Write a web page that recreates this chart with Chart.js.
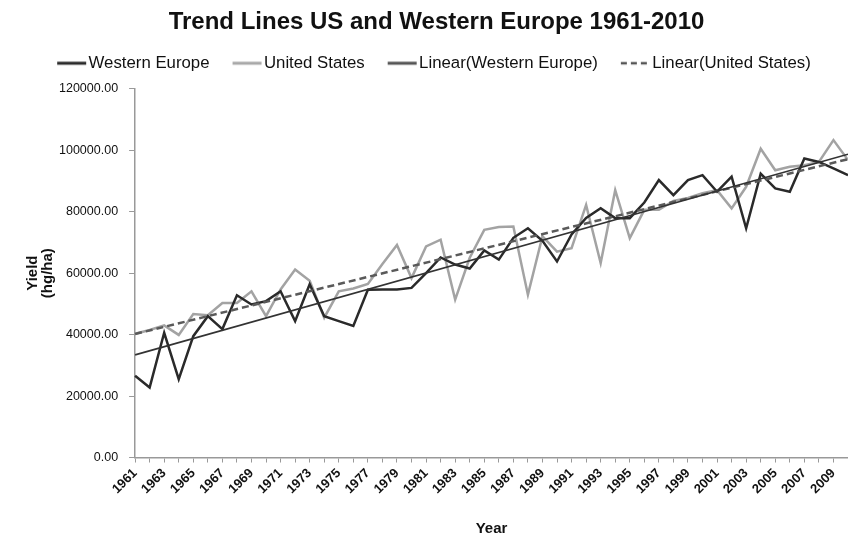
<!DOCTYPE html>
<html><head><meta charset="utf-8">
<script src="https://cdn.jsdelivr.net/npm/chart.js@4.4.1/dist/chart.umd.min.js"></script>
<style>html,body{margin:0;padding:0;background:#fff}#wrap{width:848px;height:535px}</style>
</head><body><div id="wrap"><canvas id="c" width="848" height="535"></canvas></div>
<script>
const years = ['1961','1962','1963','1964','1965','1966','1967','1968','1969','1970','1971','1972','1973','1974','1975','1976','1977','1978','1979','1980','1981','1982','1983','1984','1985','1986','1987','1988','1989','1990','1991','1992','1993','1994','1995','1996','1997','1998','1999','2000','2001','2002','2003','2004','2005','2006','2007','2008','2009','2010'];
const westernEurope = [26600,22800,40600,25500,39500,46000,41800,52800,49800,50900,54100,44400,56400,46000,44400,42800,54600,54700,54700,55200,60000,65100,62800,61500,67400,64400,71500,74600,70500,63800,72600,78000,81100,77900,77900,83000,90300,85400,90300,91900,86500,91400,74600,92400,87600,86500,97300,96200,94100,91900];
const unitedStates = [40300,41500,43000,39900,46700,46300,50300,50300,54100,46000,54700,61200,57500,45500,54100,55000,56500,63000,69200,58400,68700,70900,51400,65000,74100,75000,75200,53000,72000,67000,68100,82200,63300,87000,71400,80600,80600,83500,84500,86000,87000,81100,88100,100500,93500,94600,95100,96200,103300,96800];
// trend line end points (1961, 2010)
const trendYears = ['1961','2010'];
const trendWE = [33400, 98700];
const trendUS = [40200, 97100];
const yTicks = [0,20000,40000,60000,80000,100000,120000];

const BOXW = 36;
function sample(color, width, dash){
  const c = document.createElement('canvas');
  c.width = BOXW + 14; c.height = 6;
  const g = c.getContext('2d');
  g.strokeStyle = color; g.lineWidth = width; g.setLineDash(dash || []);
  g.beginPath(); g.moveTo(c.width - 30, 3); g.lineTo(c.width - 1, 3); g.stroke();
  return c;
}

const legendShift = {
  id: 'legendShift',
  afterLayout(chart){ if (chart.legend){ chart.legend.left -= 9; chart.legend.right -= 9; } }
};

const ctx = document.getElementById('c');
new Chart(ctx, {
  type: 'line',
  plugins: [legendShift],
  data: {
    labels: years,
    datasets: [
      {label:'Western Europe', data: westernEurope, borderColor:'#2a2a2a', backgroundColor:'#2a2a2a', borderWidth:2.5, pointRadius:0, tension:0, order:3, pointStyle: sample('#2a2a2a',3)},
      {label:'United States', data: unitedStates, borderColor:'#a3a3a3', backgroundColor:'#a3a3a3', borderWidth:2.5, pointRadius:0, tension:0, order:4, pointStyle: sample('#a8a8a8',3)},
      {label:'Linear(Western Europe)', data: trendYears.map((x,i)=>({x:x,y:trendWE[i]})), borderColor:'#333333', backgroundColor:'#333333', borderWidth:1.6, pointRadius:0, order:1, pointStyle: sample('#555',3)},
      {label:'Linear(United States)', data: trendYears.map((x,i)=>({x:x,y:trendUS[i]})), borderColor:'#5a5a5a', backgroundColor:'#5a5a5a', borderWidth:2.5, borderDash:[7,4], pointRadius:0, order:2, pointStyle: sample('#555',2.5,[6,4])}
    ]
  },
  options: {
    responsive:false, animation:false, maintainAspectRatio:false,
    layout:{padding:{left:25,right:0,top:4,bottom:-3}},
    plugins:{
      title:{display:true, text:'Trend Lines US and Western Europe 1961-2010', color:'#111', font:{family:'Liberation Sans, Arial', size:24, weight:'bold'}, padding:{top:4,bottom:8}},
      subtitle:{display:true, text:' ', weight:500, font:{size:1}, padding:{top:0,bottom:6}},
      legend:{display:true, labels:{usePointStyle:true, pointStyleWidth:BOXW, boxHeight:6, padding:10, color:'#111', font:{family:'Liberation Sans, Arial', size:16.8}, sort:(a,b)=>a.datasetIndex-b.datasetIndex}},
      tooltip:{enabled:false}
    },
    scales:{
      x:{type:'category', offset:false,
        afterFit:function(s){ s.paddingRight = 0; s.paddingLeft = 0; },
        grid:{display:true, drawOnChartArea:false, drawTicks:true, tickLength:5, color:'#999'},
        border:{display:true, color:'#999', width:1.5},
        ticks:{autoSkip:false, minRotation:45, maxRotation:45, color:'#111', font:{family:'Liberation Sans, Arial', size:13, weight:'bold'}, padding:3,
          callback:function(v,i){return i%2===0 ? years[i] : '';}},
        title:{display:true, text:'Year', color:'#111', font:{family:'Liberation Sans, Arial', size:15, weight:'bold'}, padding:{top:20,bottom:0}}
      },
      y:{min:0, max:120000,
        afterBuildTicks:function(s){s.ticks = yTicks.map(v=>({value:v}));},
        afterFit:function(s){ s.width -= 7; },
        grid:{display:true, drawOnChartArea:false, drawTicks:true, tickLength:6, color:'#999'},
        border:{display:true, color:'#999', width:1.5},
        ticks:{color:'#111', font:{family:'Liberation Sans, Arial', size:12.5}, padding:11, callback:v=>Number(v).toFixed(2)},
        title:{display:true, text:['Yield','(hg/ha)'], color:'#111', font:{family:'Liberation Sans, Arial', size:15, weight:'bold', lineHeight:1.0}, padding:{top:0,bottom:0}}
      }
    }
  }
});
</script></body></html>
